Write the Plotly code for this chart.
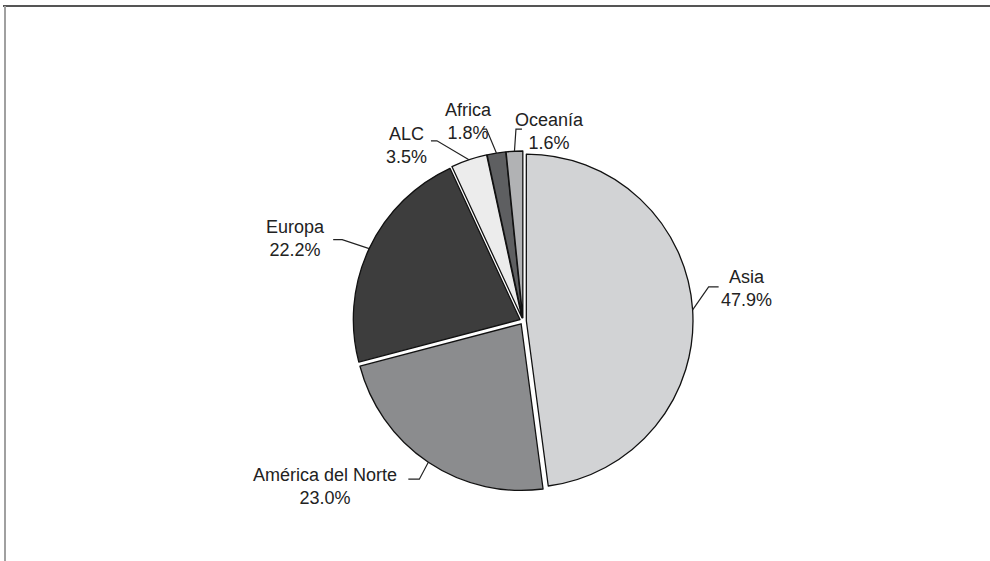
import math

import plotly.graph_objects as go

regions = ["Asia", "América del Norte", "Europa", "ALC", "Africa", "Oceanía"]
shares = [47.9, 23.0, 22.2, 3.5, 1.8, 1.6]
colors = ["#d2d3d5", "#8b8c8e", "#3d3d3d", "#ececec", "#5e5f61", "#b1b2b4"]

W, H = 990, 561
CX, CY, R0 = 523, 321, 170  # pie centre and outer reach in px
PULL = 0.02

# leader layout: elbow offset from slice edge, arm length, text offset from arm end, anchor
leaders = {
    "Asia": (16, -23, 10, 0, 2, "left"),
    "América del Norte": (-9, 17, -11, -9, 7, "right"),
    "Europa": (-27, -9, -9, -6, -1, "right"),
    "ALC": (-32, -19, -6, -2, 5, "right"),
    "Africa": (-10, -24, -4, -14, -8, "center"),
    "Oceanía": (1.5, -22, 6, 28, 2, "center"),
}


def px(x, y):
    return x / W, 1 - y / H


fig = go.Figure(
    go.Pie(
        labels=regions,
        values=shares,
        sort=False,
        direction="clockwise",
        rotation=0,
        pull=[PULL] * len(shares),
        textinfo="none",
        hoverinfo="label+percent",
        marker=dict(colors=colors, line=dict(color="#111111", width=1.3)),
        domain=dict(
            x=[(CX - 200) / W, (CX + 200) / W],
            y=[1 - (CY + R0) / H, 1 - (CY - R0) / H],
        ),
        showlegend=False,
    )
)

total = sum(shares)
cum = 0.0
shapes = []
annotations = []
for name, val in zip(regions, shares):
    mid = (cum + val / 2) / total * 2 * math.pi
    cum += val
    ex, ey = CX + R0 * math.sin(mid), CY - R0 * math.cos(mid)
    dx, dy, arm, tx, ty, anchor = leaders[name]
    bx, by = ex + dx, ey + dy
    endx = bx + arm
    p0, p1, p2 = px(ex, ey), px(bx, by), px(endx, by)
    shapes.append(
        dict(
            type="path",
            xref="paper",
            yref="paper",
            path=f"M {p0[0]},{p0[1]} L {p1[0]},{p1[1]} L {p2[0]},{p2[1]}",
            line=dict(color="#222222", width=1.2),
        )
    )
    ax, ay = px(endx + tx, by + ty)
    annotations.append(
        dict(
            x=ax,
            y=ay,
            xref="paper",
            yref="paper",
            text=f"{name}<br>{val:.1f}%",
            showarrow=False,
            xanchor=anchor,
            yanchor="middle",
            align="center",
            font=dict(family="Liberation Sans, Arial, sans-serif", size=18, color="#222222"),
        )
    )

# frame lines
shapes.append(dict(type="line", xref="paper", yref="paper", x0=3 / W, x1=1, y0=1 - 6 / H, y1=1 - 6 / H,
                   line=dict(color="#555555", width=2)))
shapes.append(dict(type="line", xref="paper", yref="paper", x0=5 / W, x1=5 / W, y0=0, y1=1 - 6 / H,
                   line=dict(color="#a0a0a0", width=2)))

fig.update_layout(
    width=W,
    height=H,
    margin=dict(l=0, r=0, t=0, b=0),
    paper_bgcolor="white",
    plot_bgcolor="white",
    shapes=shapes,
    annotations=annotations,
)

fig.write_html(
    "out.html",
    config={"displayModeBar": False},
    post_script="document.body.style.margin = '0';",
)
